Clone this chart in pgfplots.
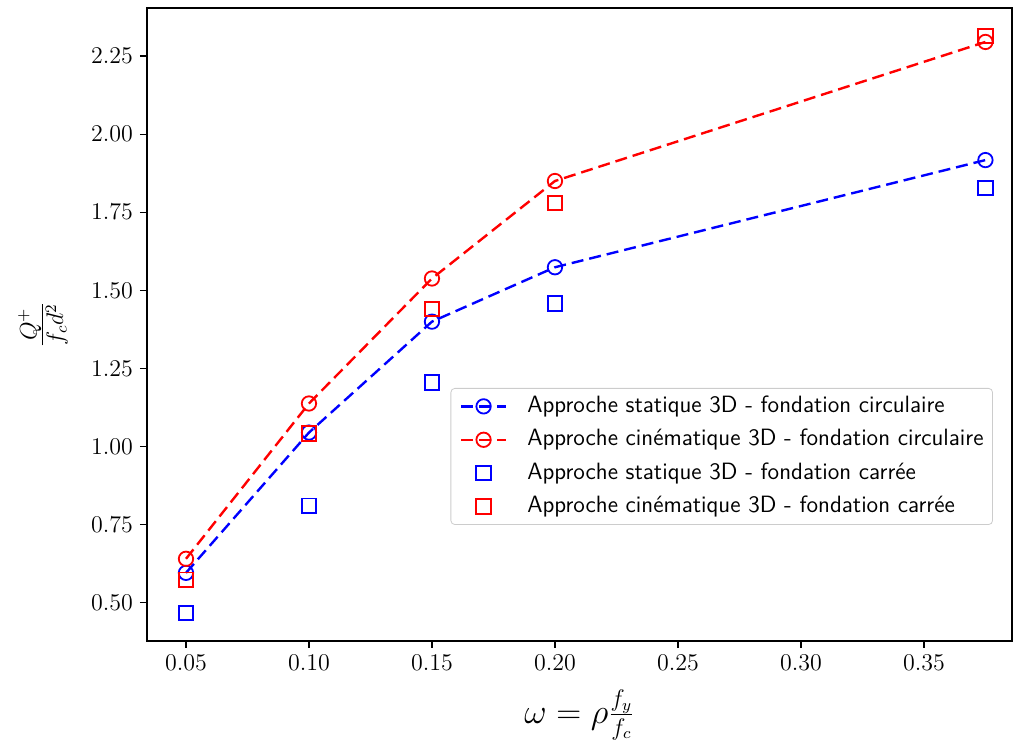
\documentclass[border=0pt]{standalone}
\usepackage{pgfplots}
\pgfplotsset{compat=1.18}
\definecolor{mplblue}{RGB}{0,0,255}
\definecolor{mplred}{RGB}{255,0,0}
\begin{document}
\begin{tikzpicture}
\begin{axis}[
  name=ax,
  scale only axis, width=432.5pt, height=316.5pt,
  xmin=0.03415, xmax=0.3858, ymin=0.378, ymax=2.4037,
  xtick={0.05,0.10,0.15,0.20,0.25,0.30,0.35},
  ytick={0.50,0.75,1.00,1.25,1.50,1.75,2.00,2.25},
  xticklabel style={/pgf/number format/.cd,fixed,fixed zerofill,precision=2},
  yticklabel style={/pgf/number format/.cd,fixed,fixed zerofill,precision=2},
  tick label style={font=\fontsize{11.5}{13}\selectfont},
  tick align=outside, xtick pos=bottom, ytick pos=left,
  major tick length=3.5pt,
  every tick/.style={black, line width=0.6pt},
  axis line style={line width=0.7pt},
  xlabel={$\omega = \rho\frac{f_y}{f_c}$},
  label style={font=\fontsize{17}{20}\selectfont},
  xlabel style={at={(rel axis cs:0.5,-0.117)}, anchor=center},
  legend image code/.code={\draw[mark repeat=2,mark phase=2,#1] plot coordinates {(0pt,0pt) (11.25pt,0pt) (22.5pt,0pt)};},
  legend style={at={(rel axis cs:0.978,0.3997)}, anchor=north east,
    draw=black!20, rounded corners=2pt, fill=white,
    font=\sffamily\fontsize{11.8}{14}\selectfont,
    nodes={inner sep=0pt, text height=8.5pt, text depth=2.5pt},
    /tikz/every odd column/.append style={column sep=10pt},
    row sep=5.7pt, inner xsep=4.5pt, inner ysep=3.5pt},
  legend cell align=left,
]
\addplot[mplblue, line width=1.2pt, dash pattern=on 6pt off 3pt,
  mark=o, mark size=3.6pt, mark options={solid, line width=0.9pt, fill=none}]
  coordinates {(0.05,0.596) (0.10,1.045) (0.15,1.400) (0.20,1.574) (0.375,1.917)};
\addlegendentry{Approche statique 3D - fondation circulaire}
\addplot[mplred, line width=1.2pt, dash pattern=on 6pt off 3pt,
  mark=o, mark size=3.6pt, mark options={solid, line width=0.9pt, fill=none}]
  coordinates {(0.05,0.641) (0.10,1.138) (0.15,1.538) (0.20,1.850) (0.375,2.295)};
\addlegendentry{Approche cinématique 3D - fondation circulaire}
\addplot[mplblue, only marks, mark=square, mark size=3.6pt, mark options={solid, line width=0.9pt, fill=none}]
  coordinates {(0.05,0.468) (0.10,0.811) (0.15,1.205) (0.20,1.458) (0.375,1.827)};
\addlegendentry{Approche statique 3D - fondation carrée}
\addplot[mplred, only marks, mark=square, mark size=3.6pt, mark options={solid, line width=0.9pt, fill=none}]
  coordinates {(0.05,0.574) (0.10,1.042) (0.15,1.440) (0.20,1.779) (0.375,2.314)};
\addlegendentry{Approche cinématique 3D - fondation carrée}
\end{axis}
\node[rotate=90, font=\fontsize{17}{20}\selectfont, anchor=center] at ([xshift=-52pt]ax.west) {$\frac{Q^+}{f_c d^2}$};
\pgfresetboundingbox
\path ([xshift=-73.5pt,yshift=-50.5pt]ax.south west) rectangle ([xshift=3.5pt,yshift=4pt]ax.north east);
\end{tikzpicture}
\end{document}
